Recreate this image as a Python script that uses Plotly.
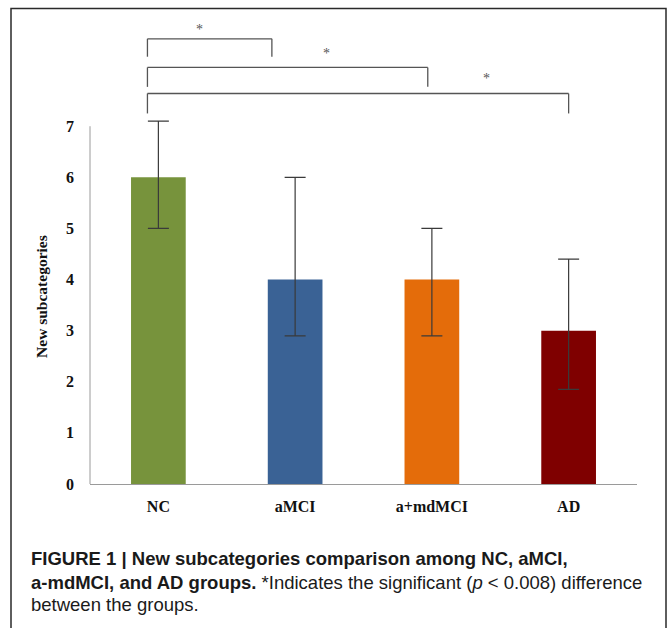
import plotly.graph_objects as go

# ---- data ----
categories = ["NC", "aMCI", "a+mdMCI", "AD"]
values = [6.0, 4.0, 4.0, 3.0]
err_plus = [1.1, 2.0, 1.0, 1.4]
err_minus = [1.0, 1.1, 1.1, 1.15]
bar_colors = ["#77933C", "#3A6295", "#E46C0A", "#7F0000"]
y_ticks = [0, 1, 2, 3, 4, 5, 6, 7]
y_title = "New subcategories"

# significance brackets (category positions, y values)
bracket_x0 = [-0.08, -0.08, -0.08]
bracket_x1 = [0.83, 1.97, 3.0]
bracket_top = [8.71, 8.15, 7.64]
bracket_bottom = [8.36, 7.77, 7.25]
star_x = [0.30, 1.23, 2.40]
star_y = [8.90, 8.43, 7.93]
star_text = ["*", "*", "*"]

caption_lines = [
    "<b>FIGURE 1 | New subcategories comparison among NC, aMCI,</b>",
    "<b>a-mdMCI, and AD groups.</b> *Indicates the significant (<i>p</i> &lt; 0.008) difference",
    "between the groups.",
]

# ---- layout constants ----
W, H = 671, 628
L, R, T, B = 90, 34, 24, 144
PW, PH = W - L - R, H - T - B


def px_x(px):
    return (px - L) / PW


def px_y(py):
    return (H - B - py) / PH


fig = go.Figure()
fig.add_trace(go.Bar(
    x=categories, y=values, width=0.4,
    marker=dict(color=bar_colors, line=dict(width=0)),
    error_y=dict(type="data", symmetric=False, array=err_plus, arrayminus=err_minus,
                 color="#3a3a3a", thickness=1.2, width=10.5),
    showlegend=False,
))

shapes = []
# y axis line only up to 7
shapes.append(dict(type="line", xref="paper", yref="y", x0=0, x1=0, y0=0, y1=max(y_ticks),
                   line=dict(color="#9a9a9a", width=1)))
for x0, x1, yt, yb in zip(bracket_x0, bracket_x1, bracket_top, bracket_bottom):
    for (a, b, c, d) in [(x0, yb, x0, yt), (x0, yt, x1, yt), (x1, yt, x1, yb)]:
        shapes.append(dict(type="line", xref="x", yref="y", x0=a, y0=b, x1=c, y1=d,
                           line=dict(color="#555555", width=1.3)))
# outer frame (open at the bottom) as one path in paper coordinates
fx0, fx1, fy_top, fy_bot = px_x(11), px_x(666), px_y(8.5), px_y(640)
frame_path = "M %.5f,%.5f L %.5f,%.5f L %.5f,%.5f L %.5f,%.5f" % (
    fx0, fy_bot, fx0, fy_top, fx1, fy_top, fx1, fy_bot)
shapes.append(dict(type="path", xref="paper", yref="paper", path=frame_path,
                   line=dict(color="#2a2a2a", width=1.5), layer="above"))

annotations = []
for sx, sy, st in zip(star_x, star_y, star_text):
    annotations.append(dict(x=sx, y=sy, xref="x", yref="y", text=st, showarrow=False,
                            font=dict(family="Liberation Serif", size=14, color="#555555")))

# y-axis title, centred on the 0..7 axis line
annotations.append(dict(x=px_x(42), y=3.66, xref="paper", yref="y", text="<b>%s</b>" % y_title,
                        textangle=-90, showarrow=False, xanchor="center", yanchor="middle",
                        font=dict(family="Liberation Serif", size=15.5, color="#111111")))

for line, ypx in zip(caption_lines, [558, 582, 604]):
    annotations.append(dict(x=px_x(29), y=px_y(ypx), xref="paper", yref="paper",
                            xanchor="left", yanchor="middle", align="left", showarrow=False,
                            text=line,
                            font=dict(family="Liberation Sans", size=18.5, color="#1a1a1a")))

tick_font = dict(family="Liberation Serif", size=16, color="#111111", weight="bold")

fig.update_layout(
    width=W, height=H,
    margin=dict(l=L, r=R, t=T, b=B, autoexpand=False),
    paper_bgcolor="white", plot_bgcolor="white",
    shapes=shapes, annotations=annotations,
    xaxis=dict(range=[-0.5, 3.5], showline=True, linecolor="#9a9a9a", linewidth=1,
               ticks="", showgrid=False, zeroline=False, ticklabelstandoff=8,
               tickfont=tick_font, automargin=False),
    yaxis=dict(range=[0, 9], tickvals=y_ticks, showline=False, ticks="", showgrid=False,
               zeroline=False, ticklabelstandoff=15, tickfont=tick_font,
               automargin=False),
    font=dict(family="Liberation Serif"),
)

fig.write_html("out.html", config={"displayModeBar": False},
               post_script="document.body.style.margin='0';document.body.style.overflow='hidden';")
